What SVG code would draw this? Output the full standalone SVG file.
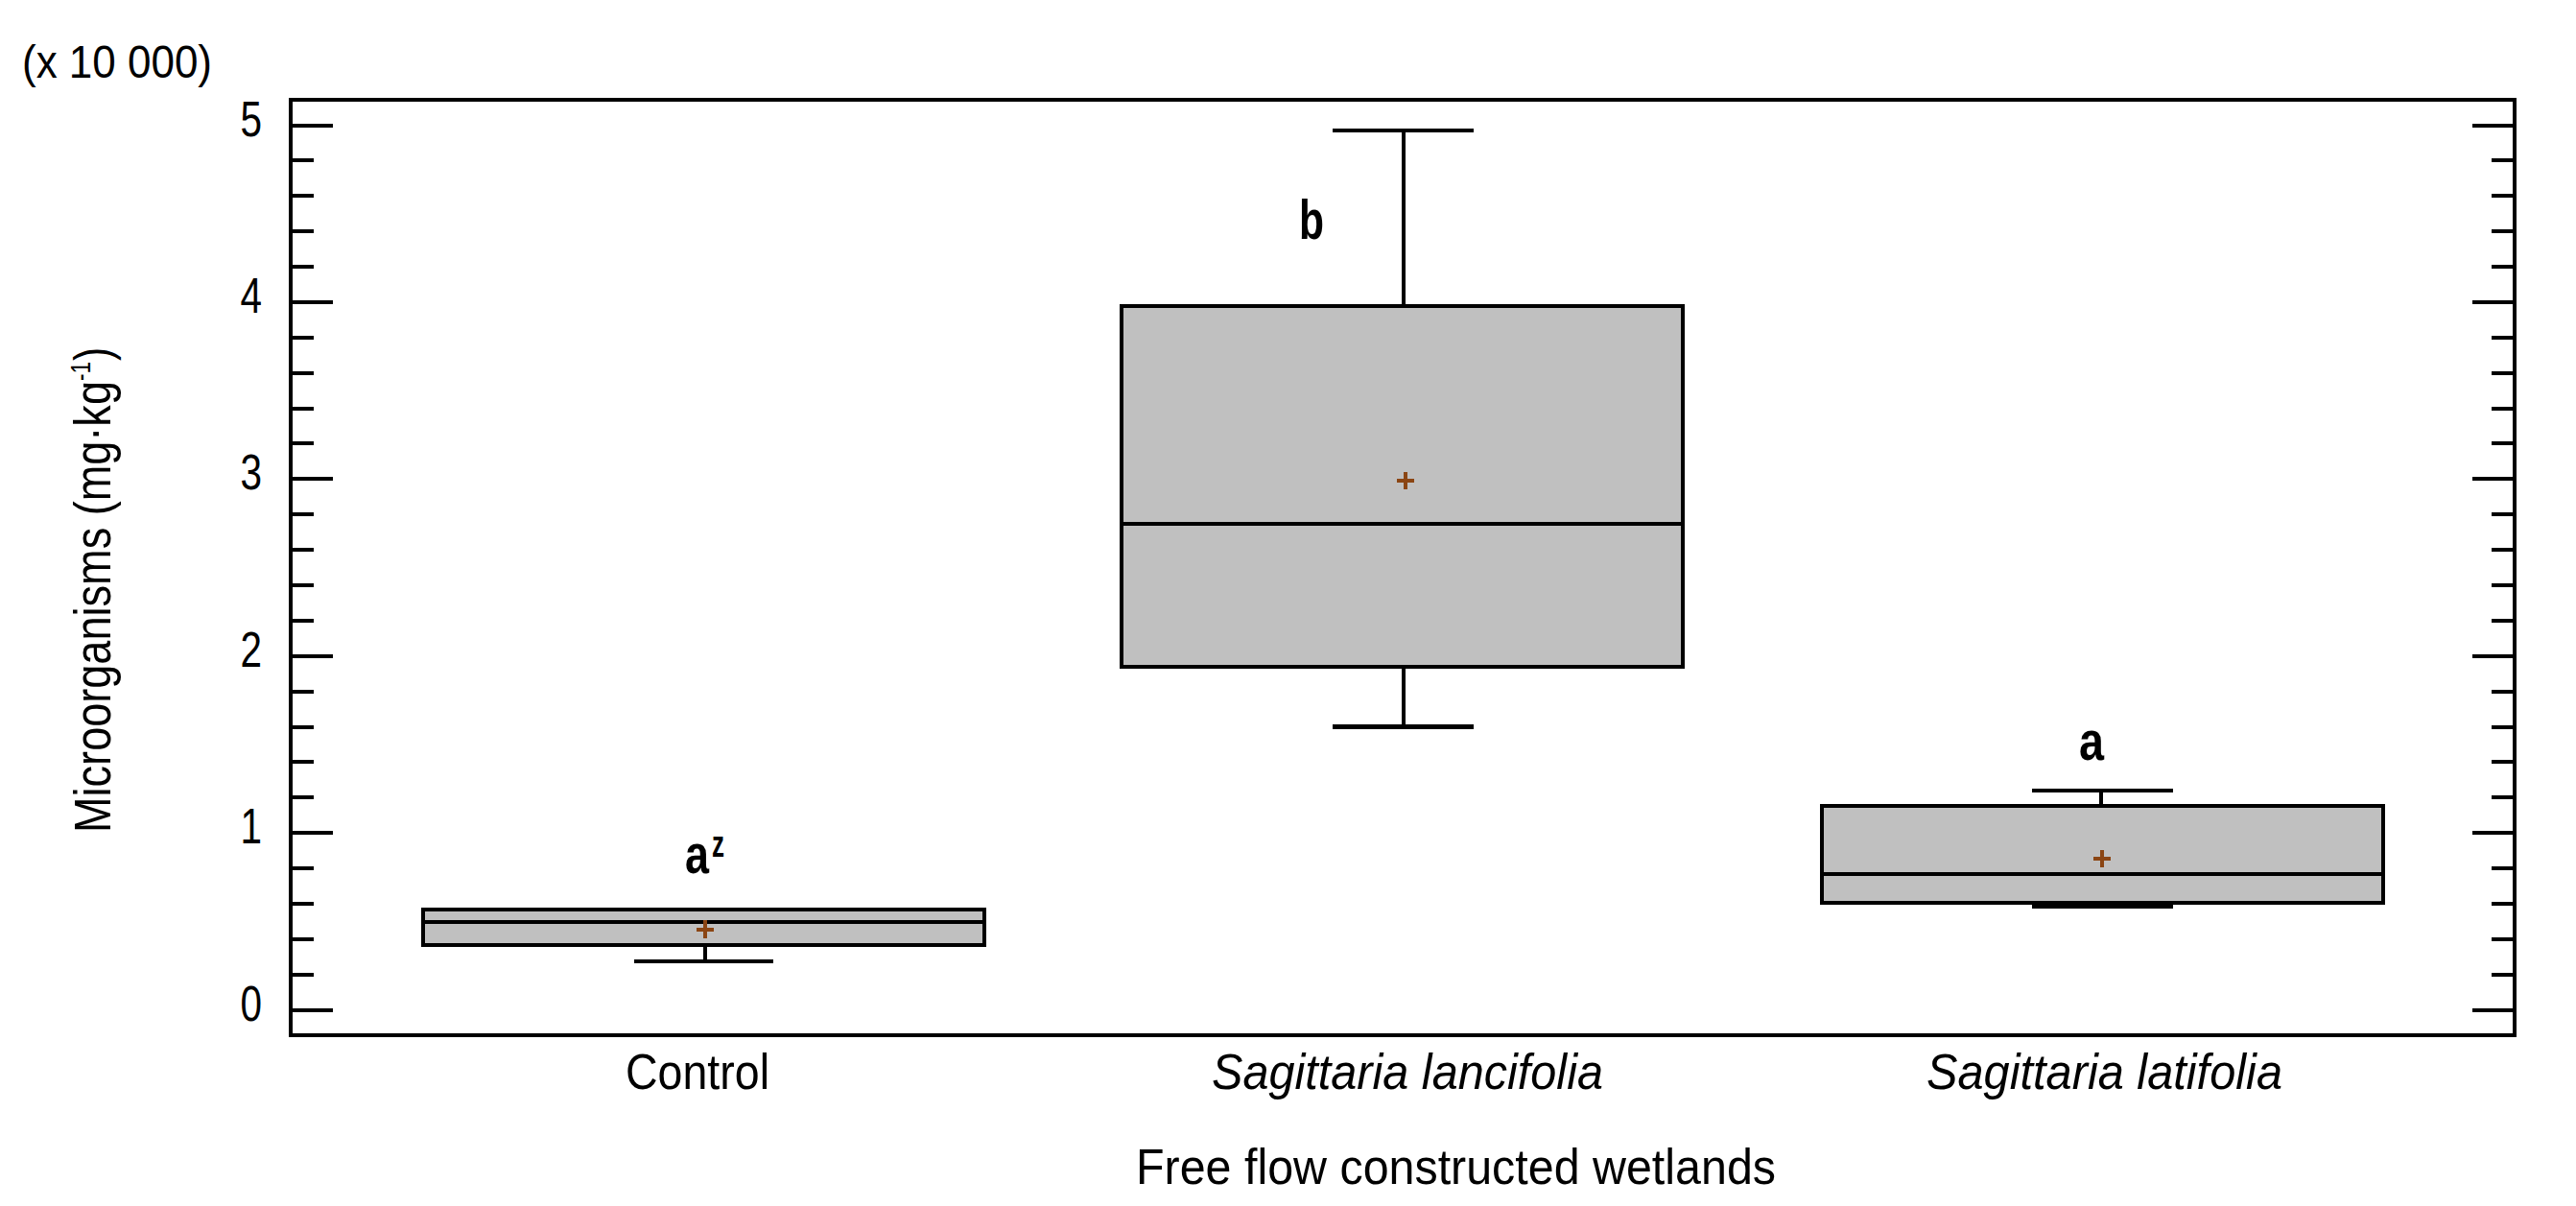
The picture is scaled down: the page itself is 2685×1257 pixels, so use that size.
<svg xmlns="http://www.w3.org/2000/svg" width="2685" height="1257" viewBox="0 0 2685 1257">
<style>
  text { font-family: "Liberation Sans", Arial, sans-serif; fill: #000; }
  .tick { font-size: 52px; text-anchor: end; }
  .xl { font-size: 52px; }
  .it { font-style: italic; }
  .sig { font-size: 58px; font-weight: bold; }
  .frame { fill: none; stroke: #000; stroke-width: 4.5; shape-rendering: crispEdges; }
  .ticks { fill: none; stroke: #000; stroke-width: 4; shape-rendering: crispEdges; }
  .box { fill: #C0C0C0; stroke: #000; stroke-width: 4.2; shape-rendering: crispEdges; }
  .med { stroke: #000; stroke-width: 4.2; shape-rendering: crispEdges; }
  .wh { stroke: #000; stroke-width: 3.7; fill: none; shape-rendering: crispEdges; }
  .cap { stroke: #000; stroke-width: 4.2; shape-rendering: crispEdges; }
  .mean { stroke: #8B4513; stroke-width: 4; fill: none; shape-rendering: crispEdges; }
</style>
<rect width="2685" height="1257" fill="#fff"/>
<g id="axes">
  <rect class="frame" x="303" y="104" width="2318" height="975"/>
  <path class="ticks" d="M303 1052.5h44M303 1015.6h24M303 978.7h24M303 941.9h24M303 905h24M303 868.1h44M303 831.2h24M303 794.3h24M303 757.5h24M303 720.6h24M303 683.7h44M303 646.8h24M303 609.9h24M303 573.1h24M303 536.2h24M303 499.3h44M303 462.4h24M303 425.5h24M303 388.7h24M303 351.8h24M303 314.9h44M303 278h24M303 241.1h24M303 204.3h24M303 167.4h24M303 130.5h44"/>
  <path class="ticks" d="M2621 1052.5h-44M2621 1015.6h-24M2621 978.7h-24M2621 941.9h-24M2621 905h-24M2621 868.1h-44M2621 831.2h-24M2621 794.3h-24M2621 757.5h-24M2621 720.6h-24M2621 683.7h-44M2621 646.8h-24M2621 609.9h-24M2621 573.1h-24M2621 536.2h-24M2621 499.3h-44M2621 462.4h-24M2621 425.5h-24M2621 388.7h-24M2621 351.8h-24M2621 314.9h-44M2621 278h-24M2621 241.1h-24M2621 204.3h-24M2621 167.4h-24M2621 130.5h-44"/>
  <text class="tick" x="273" y="1063.5" textLength="22.5" lengthAdjust="spacingAndGlyphs">0</text>
  <text class="tick" x="273" y="879" textLength="22.5" lengthAdjust="spacingAndGlyphs">1</text>
  <text class="tick" x="273" y="694.7" textLength="22.5" lengthAdjust="spacingAndGlyphs">2</text>
  <text class="tick" x="273" y="510.3" textLength="22.5" lengthAdjust="spacingAndGlyphs">3</text>
  <text class="tick" x="273" y="325.9" textLength="22.5" lengthAdjust="spacingAndGlyphs">4</text>
  <text class="tick" x="273" y="141.5" textLength="22.5" lengthAdjust="spacingAndGlyphs">5</text>
  <text x="23" y="81" font-size="48" textLength="198" lengthAdjust="spacingAndGlyphs">(x 10 000)</text>
  <g transform="translate(115,868) rotate(-90)">
    <text x="0" y="0" font-size="54" textLength="471" lengthAdjust="spacingAndGlyphs">Microorganisms (mg·kg</text>
    <text x="471" y="-21" font-size="29" textLength="20" lengthAdjust="spacingAndGlyphs">-1</text>
    <text x="492" y="0" font-size="54" textLength="14" lengthAdjust="spacingAndGlyphs">)</text>
  </g>
  <text class="xl" x="652" y="1135" textLength="150" lengthAdjust="spacingAndGlyphs">Control</text>
  <text class="xl it" x="1263" y="1135" textLength="408" lengthAdjust="spacingAndGlyphs">Sagittaria lancifolia</text>
  <text class="xl it" x="2008" y="1135" textLength="371" lengthAdjust="spacingAndGlyphs">Sagittaria latifolia</text>
  <text class="xl" x="1184" y="1234" textLength="667" lengthAdjust="spacingAndGlyphs">Free flow constructed wetlands</text>
</g>
<g id="box-control">
  <line class="wh" x1="735" y1="985" x2="735" y2="1002"/>
  <line class="cap" x1="661" y1="1002" x2="806" y2="1002"/>
  <rect class="box" x="441" y="948" width="585" height="37"/>
  <line class="med" x1="441" y1="961.3" x2="1026" y2="961.3"/>
  <path class="mean" d="M726 968.5h18M735 959v19"/>
  <text class="sig" x="714" y="910" textLength="25" lengthAdjust="spacingAndGlyphs">a</text>
  <text x="742" y="893" font-size="38" font-weight="bold" textLength="13" lengthAdjust="spacingAndGlyphs">z</text>
</g>
<g id="box-lancifolia">
  <line class="wh" x1="1463" y1="318.6" x2="1463" y2="136"/>
  <line class="cap" x1="1389" y1="136" x2="1536" y2="136"/>
  <line class="wh" x1="1463" y1="694.8" x2="1463" y2="757.5"/>
  <line class="cap" x1="1389" y1="757.5" x2="1536" y2="757.5"/>
  <rect class="box" x="1169" y="318.6" width="585" height="376.2"/>
  <line class="med" x1="1169" y1="546" x2="1754" y2="546"/>
  <path class="mean" d="M1456 500.5h18M1465 491.5v18"/>
  <text class="sig" x="1354" y="249" textLength="26" lengthAdjust="spacingAndGlyphs">b</text>
</g>
<g id="box-latifolia">
  <line class="wh" x1="2190" y1="840" x2="2190" y2="824"/>
  <line class="cap" x1="2118" y1="824" x2="2265" y2="824"/>
  <line class="cap" x1="2118" y1="945.3" x2="2265" y2="945.3"/>
  <rect class="box" x="1899" y="840" width="585" height="100.7"/>
  <line class="med" x1="1899" y1="910.7" x2="2484" y2="910.7"/>
  <path class="mean" d="M2182 894.5h18M2191 886v18"/>
  <text class="sig" x="2167" y="792" textLength="26" lengthAdjust="spacingAndGlyphs">a</text>
</g>
</svg>
